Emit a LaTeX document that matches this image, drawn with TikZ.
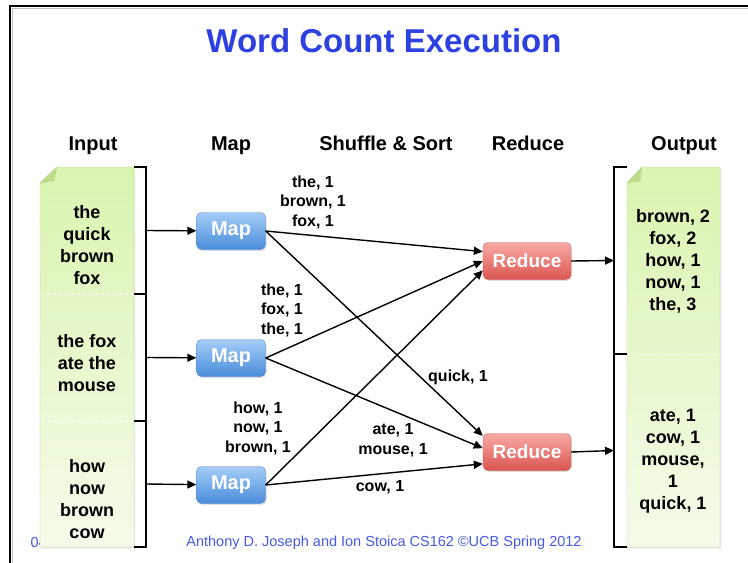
\documentclass[tikz,border=0pt]{standalone}
\usepackage{fontspec}
\setmainfont{Liberation Sans}
\usetikzlibrary{arrows.meta,shadows}

\definecolor{titleblue}{RGB}{45,65,225}
\definecolor{footblue}{RGB}{70,90,230}
\definecolor{maptop}{RGB}{165,205,248}
\definecolor{mapbot}{RGB}{72,140,218}
\definecolor{mapedge}{RGB}{85,135,200}
\definecolor{redtop}{RGB}{250,170,165}
\definecolor{redbot}{RGB}{218,85,80}
\definecolor{rededge}{RGB}{200,95,95}
\definecolor{doctop}{RGB}{218,244,175}
\definecolor{docbot}{RGB}{244,251,234}
\definecolor{docedge}{RGB}{185,214,140}
\definecolor{docfold}{RGB}{190,220,140}

\tikzset{
  mapbox/.style={draw=mapedge, rounded corners=5pt, top color=maptop,
    bottom color=mapbot, minimum width=69pt, minimum height=37pt,
    text=white, font=\bfseries\fontsize{20}{22}\selectfont,
    drop shadow={opacity=0.25,shadow xshift=1pt,shadow yshift=-1.5pt}},
  redbox/.style={mapbox, draw=rededge, top color=redtop, bottom color=redbot,
    minimum width=88pt, font=\bfseries\fontsize{19}{22}\selectfont},
  docfill/.style={draw=docedge, top color=doctop, bottom color=docbot,
    drop shadow={opacity=0.2,shadow xshift=1pt,shadow yshift=-1.5pt}},
  doctext/.style={align=center, font=\bfseries\fontsize{18}{22}\selectfont},
  pairs/.style={align=center, font=\bfseries\fontsize{16}{19.5}\selectfont},
  head/.style={anchor=base, font=\bfseries\fontsize{20}{24}\selectfont},
  flow/.style={-{Triangle[length=9pt,width=8pt]}, line width=1.4pt},
  brace/.style={line width=1.1pt},
  sep/.style={white, dashed, line width=0.8pt},
}

\begin{document}
\begin{tikzpicture}[x=1pt,y=-1pt]
  \useasboundingbox (0,0) rectangle (748,563);
  %\draw[very thin,gray,step=50] (0,0) grid (748,563);
  % slide frame
  \draw[gray!50, line width=1pt] (12.5,563) -- (12.5,8.5) -- (748,8.5);
  \draw[line width=2.5pt] (10,563) -- (10,6) -- (748,6);

  \node[text=titleblue, font=\bfseries\fontsize{33}{38}\selectfont] (title)
    at (384,41) {Word Count Execution};

  % column heads
  \node[head] (hin) at (93,150) {Input};
  \node[head] (hmap) at (231,150) {Map};
  \node[head] (hshuf) at (386,150) {Shuffle \& Sort};
  \node[head] (hred) at (528,150) {Reduce};
  \node[head] (hout) at (684,150) {Output};

  % footer
  \node[text=footblue, font=\fontsize{14.5}{16}\selectfont, anchor=west]
    (date) at (27,543) {04};
  \node[text=footblue, font=\fontsize{14.5}{16}\selectfont] (foot) at (384,543)
    {Anthony D. Joseph and Ion Stoica CS162 \textcopyright UCB Spring 2012};

  % input file
  \path[docfill] (40,183) -- (57,167) -- (134,167) -- (134,547) -- (40,547) -- cycle;
  \fill[docfold, draw=docedge] (40,183) -- (57,167) -- (54,181) -- cycle;
  \draw[sep] (41,294) -- (133,294);
  \draw[sep] (41,421) -- (133,421);
  \draw[brace] (134,167) -- (146,167) -- (146,294) -- (134,294);
  \draw[brace] (134,294.5) -- (146,294.5) -- (146,421) -- (134,421);
  \draw[brace] (134,421.5) -- (146,421.5) -- (146,547) -- (134,547);
  \coordinate (in1) at (146,230.5);
  \coordinate (in2) at (146,357.5);
  \coordinate (in3) at (146,484);
  \node[doctext] (txt1) at (87,245) {the\\quick\\brown\\fox};
  \node[doctext] (txt2) at (87,363) {the fox\\ate the\\mouse};
  \node[doctext] (txt3) at (87,499) {how\\now\\brown\\cow};

  % output file
  \path[docfill] (627,183) -- (642,167) -- (720,167) -- (720,547) -- (627,547) -- cycle;
  \fill[docfold, draw=docedge] (627,183) -- (642,167) -- (640,181) -- cycle;
  \draw[sep] (628,354) -- (719,354);
  \draw[brace] (627,167) -- (614,167) -- (614,354) -- (627,354);
  \draw[brace] (627,354.5) -- (614,354.5) -- (614,547) -- (627,547);
  \coordinate (out1) at (614,260.5);
  \coordinate (out2) at (614,450.5);
  \node[doctext] (res1) at (673,261) {brown, 2\\fox, 2\\how, 1\\now, 1\\the, 3};
  \node[doctext] (res2) at (673,461) {ate, 1\\cow, 1\\mouse,\\1\\quick, 1};

  % map and reduce tasks
  \node[mapbox] (m1) at (231,231) {Map};
  \node[mapbox] (m2) at (231,358) {Map};
  \node[mapbox] (m3) at (231,485) {Map};
  \node[redbox] (r1) at (527,261) {Reduce};
  \node[redbox] (r2) at (527,452) {Reduce};

  \draw[flow] (in1) -- (m1);
  \draw[flow] (in2) -- (m2);
  \draw[flow] (in3) -- (m3);

  % shuffle
  \draw[flow] (m1.east) -- (r1.168);
  \draw[flow] (m2.east) -- (r1.west);
  \draw[flow] (m3.east) -- (r1.192);
  \draw[flow] (m1.east) -- (r2.160);
  \draw[flow] (m2.east) -- (r2.175);
  \draw[flow] (m3.east) -- (r2.195);

  \draw[flow] (r1.east) -- (out1);
  \draw[flow] (r2.east) -- (out2);

  % intermediate pairs
  \node[pairs] (p1) at (313,202) {the, 1\\brown, 1\\fox, 1};
  \node[pairs] (p2) at (282,310) {the, 1\\fox, 1\\the, 1};
  \node[pairs] (p3) at (258,428) {how, 1\\now, 1\\brown, 1};
  \node[pairs] (p4) at (458,377) {quick, 1};
  \node[pairs] (p5) at (393,440) {ate, 1\\mouse, 1};
  \node[pairs] (p6) at (380,487) {cow, 1};
\end{tikzpicture}
\end{document}
